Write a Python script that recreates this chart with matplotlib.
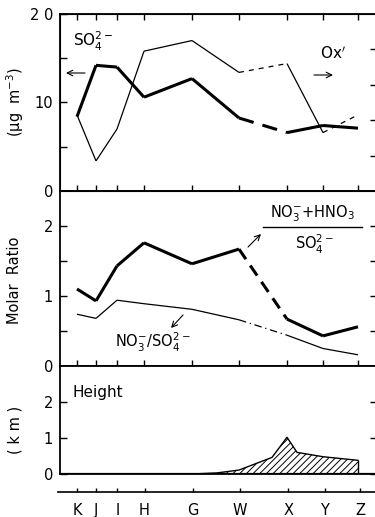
import numpy as np
import matplotlib
matplotlib.use("Agg")
import matplotlib.pyplot as plt

stations = ["K", "J", "I", "H", "G", "W", "X", "Y", "Z"]
station_pos = [0, 19, 40, 67, 115, 162, 210, 246, 281]

# top panel: sulfate (left axis) and oxidant (right axis)
so4 = [8.4, 14.2, 14.0, 10.6, 12.7, 8.25, 6.6, 7.4, 7.1]
ox = [43, 17, 35, 79, 85, 67, 72, 33, 43]

# middle panel: molar ratios
ratio_total = [1.10, 0.93, 1.43, 1.76, 1.46, 1.67, 0.67, 0.43, 0.56]
ratio_no3 = [0.74, 0.68, 0.94, 0.89, 0.81, 0.66, 0.44, 0.25, 0.16]

# bottom panel: height profile
height_pos = [115, 140, 162, 195, 210, 220, 246, 281]
height_km = [0.0, 0.03, 0.11, 0.46, 1.02, 0.6, 0.48, 0.38]

W, H = 375, 517
plt.rcParams["font.family"] = "DejaVu Sans"
plt.rcParams["hatch.linewidth"] = 0.7
fig = plt.figure(figsize=(W / 100, H / 100), dpi=100)


def fpos(x, y):
    return (x / W, 1 - y / H)


def box(top, bottom, left=60, right=377):
    return [left / W, 1 - bottom / H, (right - left) / W, (bottom - top) / H]


xlim = (-17, 300)
thick = 2.2
thin = 0.9


def segs(ax, xs, ys, styles, lw):
    # draw a series piece by piece so each gap can get its own line style
    for i, ls in enumerate(styles):
        ax.plot(xs[i:i + 2], ys[i:i + 2], color="black", lw=lw, ls=ls,
                solid_capstyle="butt", dash_capstyle="butt")


def style_axes(ax, top_ticks=False):
    ax.set_xlim(*xlim)
    ax.set_xticks(station_pos)
    ax.tick_params(axis="x", direction="in", length=4, width=1,
                   labelbottom=False, top=top_ticks)
    ax.tick_params(axis="y", direction="in", length=5, width=1,
                   labelsize=10.5, pad=5, right=True)
    for s in ax.spines.values():
        s.set_linewidth(1.3)


ax1 = fig.add_axes(box(14, 191))
ax2 = fig.add_axes(box(191, 366))
ax3 = fig.add_axes(box(366, 474))
ax4 = fig.add_axes(box(492, 492, left=58, right=377))

# ---- top
style_axes(ax1, top_ticks=True)
ax1.set_ylim(0, 20)
ax1.set_yticks([0, 5, 10, 15, 20])
ax1.set_yticklabels(["0", "", "10", "", "2 0"])
ax1.tick_params(axis="y", right=False)
segs(ax1, station_pos, so4, ["-"] * 5 + [(0, (5, 3))] + ["-"] * 2, thick)
ax1b = ax1.twinx()
ax1b.set_ylim(0, 100)
ax1b.set_yticks([20, 40, 60, 80])
ax1b.tick_params(axis="y", direction="in", length=5, width=1, labelright=False)
segs(ax1b, station_pos, ox, ["-"] * 5 + [(0, (4, 4))] + ["-", (0, (4, 4))], thin)

# ---- middle
style_axes(ax2)
ax2.set_ylim(0, 2.5)
ax2.set_yticks([0, 0.5, 1, 1.5, 2])
ax2.set_yticklabels(["0", "", "1", "", "2"])
segs(ax2, station_pos, ratio_total, ["-"] * 5 + [(0, (4, 2.5))] + ["-"] * 2, thick)
segs(ax2, station_pos, ratio_no3, ["-"] * 5 + [(0, (6, 3, 1, 3))] + ["-"] * 2, thin)

# ---- bottom
style_axes(ax3)
ax3.set_ylim(0, 3)
ax3.set_yticks([0, 1, 2])
ax3.tick_params(axis="x", bottom=False)
ax3.fill_between(height_pos, 0, height_km, facecolor="none", edgecolor="black",
                 hatch="/////", linewidth=0)
ax3.plot(height_pos, height_km, color="black", lw=1.0)
ax3.vlines(height_pos[-1], 0, height_km[-1], color="black", lw=1.0)
ax3.axhline(0, color="black", lw=1.6)

# ---- station axis
ax4.set_xlim(-19, 298)
ax4.set_ylim(0, 1)
for s in ["top", "left", "right"]:
    ax4.spines[s].set_visible(False)
ax4.spines["bottom"].set_linewidth(1.2)
ax4.set_yticks([])
ax4.set_xticks(station_pos)
ax4.set_xticklabels(stations)
ax4.tick_params(axis="x", direction="in", length=3, width=1, labelsize=10.5, pad=8)

# ---- axis titles
fig.text(*fpos(15, 102), "(μg  m$^{-3}$)", rotation=90, ha="center", va="center", fontsize=10.5)
fig.text(*fpos(15, 280), "Molar  Ratio", rotation=90, ha="center", va="center", fontsize=10.5)
fig.text(*fpos(15, 430), "( k m )", rotation=90, ha="center", va="center", fontsize=10.5)

# ---- annotations
arrow = dict(arrowstyle="->", lw=0.8, color="black", shrinkA=0, shrinkB=0)
fig.text(*fpos(73, 41), "SO$_4^{2-}$", ha="left", va="center", fontsize=11)
ax1.annotate("", xy=fpos(66, 73), xytext=fpos(85, 73), xycoords="figure fraction",
             textcoords="figure fraction", arrowprops=arrow)
fig.text(*fpos(333, 54), "Ox$'$", ha="center", va="center", fontsize=11)
ax1.annotate("", xy=fpos(333, 75), xytext=fpos(314, 75), xycoords="figure fraction",
             textcoords="figure fraction", arrowprops=arrow)

fig.text(*fpos(313, 214), "NO$_3^{-}$+HNO$_3$", ha="center", va="center", fontsize=10.5)
fig.add_artist(plt.Line2D([263 / W, 362 / W], [1 - 227 / H] * 2, color="black", lw=1.0))
fig.text(*fpos(314, 244), "SO$_4^{2-}$", ha="center", va="center", fontsize=10.5)
ax2.annotate("", xy=fpos(261, 234), xytext=fpos(248, 247), xycoords="figure fraction",
             textcoords="figure fraction", arrowprops=arrow)

fig.text(*fpos(153, 342), "NO$_3^{-}$/SO$_4^{2-}$", ha="center", va="center", fontsize=10.5)
ax2.annotate("", xy=fpos(171, 328), xytext=fpos(183, 315), xycoords="figure fraction",
             textcoords="figure fraction", arrowprops=arrow)

fig.text(*fpos(73, 393), "Height", ha="left", va="center", fontsize=11)

fig.savefig("out.png", dpi=100)
